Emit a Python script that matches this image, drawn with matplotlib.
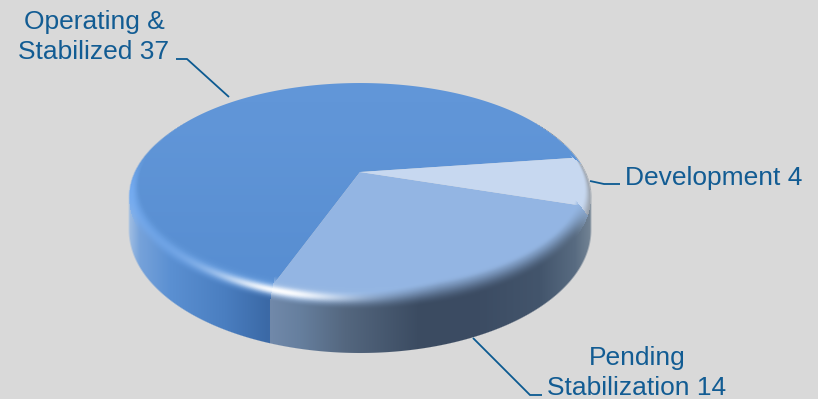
import numpy as np
import matplotlib
matplotlib.use("Agg")
import matplotlib.pyplot as plt
from matplotlib.colors import to_rgb
from matplotlib.path import Path
from matplotlib.transforms import Affine2D, Transform

# Portfolio counts by property status
categories = ["Operating &\nStabilized", "Pending\nStabilization", "Development"]
counts = [37, 14, 4]
slice_colors = ["#6196d8", "#93b5e3", "#c7d8f0"]

WIDTH, HEIGHT = 818, 399
BACKGROUND = "#d9d9d9"
LABEL_COLOR = "#125c93"
START_ANGLE = 8.1

# Disc geometry in figure pixels (y grows downward)
CX, VERTEX_Y = 360.0, 172.0
TILT = 0.152
SCALE_X, SCALE_Y = 220.5, 102.5
A0, B0, CY0 = 223.0, 105.0, 188.0      # flat top edge
A1, B1, CY1 = 231.0, 113.0, 197.0      # outer edge of the bevel
CY_FOOT, B_FOOT = 230.0, 123.0         # lower edge of the side wall


class DiscProjection(Transform):
    """Perspective view of the unit pie onto a tilted disc."""
    input_dims = output_dims = 2
    is_affine = False
    has_inverse = False

    def transform_non_affine(self, values):
        values = np.asarray(values, dtype=float)
        w = 1 + TILT * values[:, 1]
        return np.column_stack([CX + SCALE_X * values[:, 0] / w,
                                VERTEX_Y - SCALE_Y * values[:, 1] / w])

    def transform_path_non_affine(self, path):
        big = path.transformed(Affine2D().scale(2000))
        polys = big.to_polygons(closed_only=True)
        verts = np.vstack(polys) / 2000
        return Path(self.transform_non_affine(verts), closed=True)


def smooth(lo, hi, v):
    t = np.clip((v - lo) / (hi - lo), 0, 1)
    return t * t * (3 - 2 * t)


def ramp(x, stops):
    """Piecewise colour ramp along x."""
    pos = [p for p, _ in stops]
    rgb = np.array([to_rgb(c) for _, c in stops])
    return np.dstack([np.interp(x, pos, rgb[:, i]) for i in range(3)])


fig = plt.figure(figsize=(WIDTH / 100, HEIGHT / 100), dpi=100, facecolor=BACKGROUND)
ax = fig.add_axes([0, 0, 1, 1])
ax.set_facecolor(BACKGROUND)

wedges, _ = ax.pie(counts, colors=slice_colors, startangle=START_ANGLE,
                   counterclock=True, wedgeprops={"linewidth": 0})
projection = DiscProjection()
for wedge in wedges:
    wedge.set_transform(projection + ax.transData)
    wedge.set_zorder(2)
    wedge.set_antialiased(True)

# Angular edges of each slice, taken from the pie itself
edges = np.array([w.theta1 for w in wedges] + [wedges[-1].theta2])
lower_edge = np.deg2rad(edges[1])

# Pixel grid
yy, xx = np.mgrid[0:HEIGHT, 0:WIDTH] + 0.5

# Bevel parameter: s = 0 on the flat edge, s = 1 on the outer edge
s_map = np.full(xx.shape, np.inf)
for s in np.linspace(1, -0.6, 260):
    a, b, c = A0 + s * (A1 - A0), B0 + s * (B1 - B0), CY0 + s * (CY1 - CY0)
    s_map[((xx - CX) / a) ** 2 + ((yy - c) / b) ** 2 <= 1] = s

finite = np.where(np.isfinite(s_map), s_map, 1.0)
a_s = A0 + finite * (A1 - A0)
b_s = B0 + finite * (B1 - B0)
c_s = CY0 + finite * (CY1 - CY0)
px = (xx - CX) * A0 / a_s / SCALE_X
py = (VERTEX_Y - ((yy - c_s) * B0 / b_s + CY0)) / SCALE_Y
Y = py / (1 - TILT * py)
X = px * (1 + TILT * Y)
theta = (np.rad2deg(np.arctan2(Y, X)) - edges[0]) % 360 + edges[0]
slice_idx = np.clip(np.searchsorted(edges, theta) - 1, 0, len(counts) - 1)

# Side wall shading, left to right
wall_op = ramp(xx, [(130, "#9dbce2"), (140, "#76a2da"), (170, "#5b90d2"),
                    (225, "#4a7ec0"), (268, "#3b69a6")])
wall_pending = ramp(xx, [(270, "#7189aa"), (300, "#667f9e"), (345, "#54677f"),
                         (420, "#3b4b61"), (480, "#3c4c63"), (540, "#43556c"),
                         (575, "#586b81"), (590, "#728394")])

# The wall seam sits directly below the lower end of the largest slice
flat_end = projection.transform_non_affine(
    np.array([[np.cos(lower_edge), np.sin(lower_edge)]]))[0]
seam_x = CX + (flat_end[0] - CX) * A1 / A0
wall = np.where((xx < seam_x)[..., None], wall_op, wall_pending)

# Bevel shading per slice; the largest slice only brightens toward the front
op_flat, op_bright = np.array(to_rgb("#5e94d6")), np.array(to_rgb("#74abf0"))
op_gain = smooth(150, 195, yy) * smooth(-0.4, 0.7, finite)
op_base = op_flat + (op_bright - op_flat) * op_gain[..., None]
pend_base = np.ones(xx.shape + (3,)) * np.array(to_rgb("#95b7e4"))
dev_flat, dev_edge = np.array(to_rgb(slice_colors[2])), np.array(to_rgb("#9aa1aa"))
dev_base = dev_flat + (dev_edge - dev_flat) * smooth(0.1, 1.1, finite)[..., None]
base = np.where((slice_idx == 0)[..., None], op_base,
                np.where((slice_idx == 1)[..., None], pend_base, dev_base))
wall_for_bevel = np.where((slice_idx == 0)[..., None], wall_op,
                          np.where((slice_idx == 1)[..., None], wall_pending, dev_base))
front = smooth(192, 240, yy)[..., None]
blend_lo = np.where(slice_idx == 1, np.interp(xx, [300, 440], [0.3, -0.55]), 0.0)
t = np.clip((finite - blend_lo) / (1.0 - blend_lo), 0, 1)
t = (t * t * (3 - 2 * t))[..., None] * front
color = base * (1 - t) + wall_for_bevel * t
glow = (np.exp(-((xx - 280) / 60) ** 2) * np.exp(-((finite - 0.3) / 0.26) ** 2))[..., None]
color = color + (1 - color) * glow * 0.97

# Compose bevel and wall into one layer
is_bevel = np.isfinite(s_map)
rgb = np.where(is_bevel[..., None], color, wall)
e_out = np.sqrt(((xx - CX) / A1) ** 2 + ((yy - CY1) / B1) ** 2)
alpha_top = np.clip((1 - e_out) * 110 + 0.5, 0, 1)
foot_y = np.maximum(yy, CY_FOOT)
e_foot = np.sqrt(((xx - CX) / A1) ** 2 + ((foot_y - CY_FOOT) / B_FOOT) ** 2)
alpha_foot = np.clip((1 - e_foot) * 120 + 0.5, 0, 1) * (yy >= CY1)
alpha = np.maximum(alpha_top, alpha_foot)
alpha = alpha * smooth(-0.6, -0.02, finite)
image = np.dstack([np.clip(rgb, 0, 1), alpha])
ax.imshow(image, extent=(0, WIDTH, HEIGHT, 0), interpolation="nearest", zorder=3, aspect="auto")

# Slight vertical falloff across the largest slice
shade = np.zeros(xx.shape + (4,))
shade[..., :3] = to_rgb("#4a82c8")
shade[..., 3] = 0.38 * smooth(90, 290, yy)
shade_im = ax.imshow(shade, extent=(0, WIDTH, HEIGHT, 0), interpolation="bilinear",
                     zorder=2.5, aspect="auto")
shade_im.set_clip_path(wedges[0])

# Leader lines
line_style = dict(color="#0c5a91", lw=1.3, solid_capstyle="butt", solid_joinstyle="miter", zorder=4)
ax.plot([176, 187, 229], [59, 59, 97], **line_style)
ax.plot([590, 604, 620], [181, 184, 184], **line_style)
ax.plot([473, 530, 542], [338, 395, 395], **line_style)

# Labels; multi-line text is anchored on its last baseline
text_style = dict(color=LABEL_COLOR, family="Liberation Sans", fontsize=19,
                  linespacing=1.3, zorder=5)
ax.text(94, 59, f"{categories[0]} {counts[0]}", ha="center", va="baseline", **text_style)
ax.text(637, 395, f"{categories[1]} {counts[1]}", ha="center", va="baseline", **text_style)
ax.text(625, 185, f"{categories[2]} {counts[2]}", ha="left", va="baseline", **text_style)

ax.set_aspect("auto")
ax.set_xlim(0, WIDTH)
ax.set_ylim(HEIGHT, 0)
ax.set_axis_off()
fig.savefig("out.png", dpi=100, facecolor=BACKGROUND)
